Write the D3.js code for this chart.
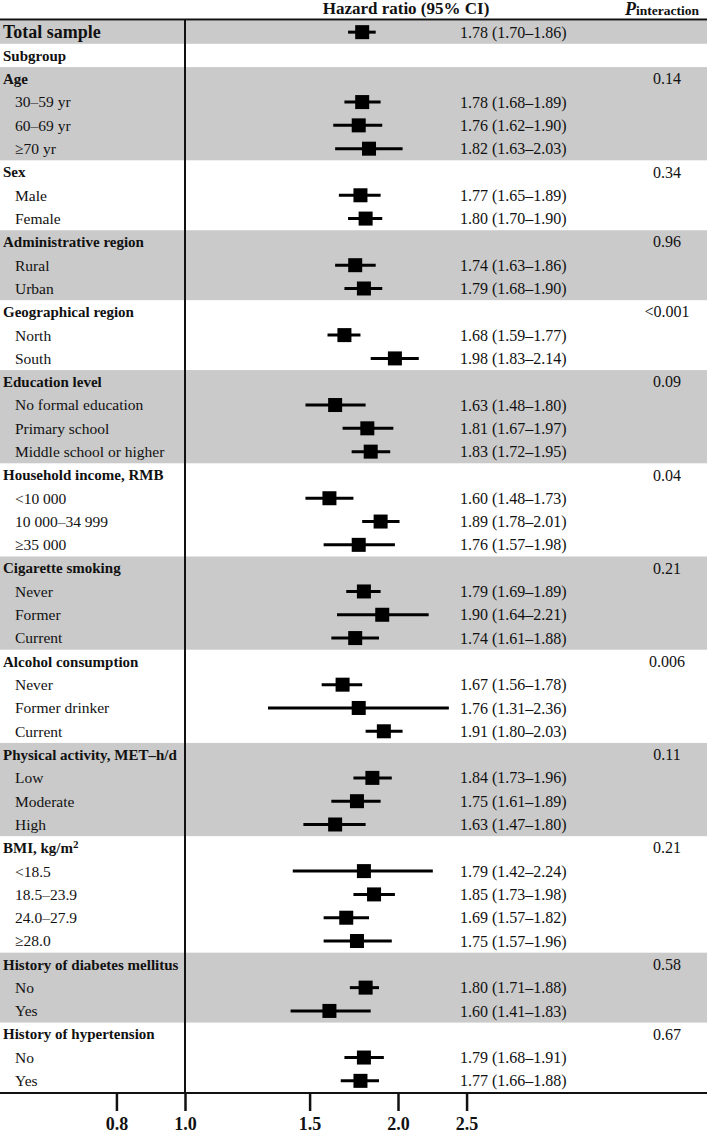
<!DOCTYPE html>
<html>
<head>
<meta charset="utf-8">
<script src="https://cdnjs.cloudflare.com/ajax/libs/d3/7.8.5/d3.min.js"></script>
<style>
  body { margin: 0; background: #fff; }
  text { font-family: "Liberation Serif", "Times New Roman", serif; fill: #111; }
</style>
</head>
<body>
<div id="chart"></div>
<script>
// overall estimate
var totalHR = 1.78, totalLo = 1.70, totalHi = 1.86;

// subgroups
var groupNames = ["Age", "Sex", "Administrative region", "Geographical region",
    "Education level", "Household income, RMB", "Cigarette smoking",
    "Alcohol consumption", "Physical activity, MET\u2013h/d", "BMI, kg/m",
    "History of diabetes mellitus", "History of hypertension"];
var groupP = ["0.14", "0.34", "0.96", "<0.001", "0.09", "0.04", "0.21",
    "0.006", "0.11", "0.21", "0.58", "0.67"];
var groupShaded = [true, false, true, false, true, false, true, false, true, false, true, false];

var itemLabels = [
    ["30\u201359 yr", "60\u201369 yr", "\u226570 yr"],
    ["Male", "Female"],
    ["Rural", "Urban"],
    ["North", "South"],
    ["No formal education", "Primary school", "Middle school or higher"],
    ["<10 000", "10 000\u201334 999", "\u226535 000"],
    ["Never", "Former", "Current"],
    ["Never", "Former drinker", "Current"],
    ["Low", "Moderate", "High"],
    ["<18.5", "18.5\u201323.9", "24.0\u201327.9", "\u226528.0"],
    ["No", "Yes"],
    ["No", "Yes"]
];
var itemHR = [[1.78, 1.76, 1.82], [1.77, 1.80], [1.74, 1.79], [1.68, 1.98],
    [1.63, 1.81, 1.83], [1.60, 1.89, 1.76], [1.79, 1.90, 1.74], [1.67, 1.76, 1.91],
    [1.84, 1.75, 1.63], [1.79, 1.85, 1.69, 1.75], [1.80, 1.60], [1.79, 1.77]];
var itemLo = [[1.68, 1.62, 1.63], [1.65, 1.70], [1.63, 1.68], [1.59, 1.83],
    [1.48, 1.67, 1.72], [1.48, 1.78, 1.57], [1.69, 1.64, 1.61], [1.56, 1.31, 1.80],
    [1.73, 1.61, 1.47], [1.42, 1.73, 1.57, 1.57], [1.71, 1.41], [1.68, 1.66]];
var itemHi = [[1.89, 1.90, 2.03], [1.89, 1.90], [1.86, 1.90], [1.77, 2.14],
    [1.80, 1.97, 1.95], [1.73, 2.01, 1.98], [1.89, 2.21, 1.88], [1.78, 2.36, 2.03],
    [1.96, 1.89, 1.80], [2.24, 1.98, 1.82, 1.96], [1.88, 1.83], [1.91, 1.88]];

var xTicks = [0.8, 1.0, 1.5, 2.0, 2.5];

// build row list
var rows = [];
rows.push({kind: "total", label: "Total sample", hr: totalHR, lo: totalLo, hi: totalHi});
rows.push({kind: "header", label: "Subgroup"});
groupNames.forEach(function(g, gi) {
    rows.push({kind: "group", label: g, p: groupP[gi], gi: gi});
    itemLabels[gi].forEach(function(lab, j) {
        rows.push({kind: "item", label: lab, gi: gi,
            hr: itemHR[gi][j], lo: itemLo[gi][j], hi: itemHi[gi][j]});
    });
});
rows.forEach(function(r, i) { r.i = i; });

var width = 709, height = 1134;
var fmt = d3.format(".2f");

var svg = d3.select("#chart").append("svg")
    .attr("width", width)
    .attr("height", height);

var y = d3.scaleBand()
    .domain(rows.map(function(d) { return d.i; }))
    .range([20.5, 1092.5]);

var x = d3.scaleLog()
    .domain([1, 2])
    .range([185, 398]);

// shaded bands
var bands = [{a: 0, b: 0}];
groupNames.forEach(function(g, gi) {
    if (!groupShaded[gi]) return;
    var rs = rows.filter(function(r) { return r.gi === gi; });
    bands.push({a: rs[0].i, b: rs[rs.length - 1].i});
});
svg.append("g").selectAll("rect")
    .data(bands)
    .enter().append("rect")
    .attr("x", 0)
    .attr("width", 707)
    .attr("y", function(d) { return y(d.a); })
    .attr("height", function(d) { return y(d.b) + y.bandwidth() - y(d.a); })
    .attr("fill", "#cacaca");

// header
svg.append("text")
    .attr("x", 406)
    .attr("y", 14)
    .attr("text-anchor", "middle")
    .style("font-weight", "bold")
    .style("font-size", "17px")
    .text("Hazard ratio (95% CI)");

var ph = svg.append("text")
    .attr("x", 699)
    .attr("y", 15)
    .attr("text-anchor", "end")
    .style("font-weight", "bold");
ph.append("tspan").style("font-style", "italic").style("font-size", "18px").text("P");
ph.append("tspan").style("font-size", "13.5px").text("interaction");

svg.append("line")
    .attr("x1", 0).attr("x2", 707)
    .attr("y1", 19.5).attr("y2", 19.5)
    .attr("stroke", "#111").attr("stroke-width", 2);

// labels
var lab = svg.append("g").selectAll("text")
    .data(rows)
    .enter().append("text")
    .attr("x", function(d) { return d.kind === "item" ? 15 : 3; })
    .attr("y", function(d) { return y(d.i) + y.bandwidth() / 2; })
    .attr("dy", "0.35em")
    .style("font-weight", function(d) { return d.kind === "item" ? "normal" : "bold"; })
    .style("font-size", function(d) {
        return d.kind === "total" ? "18px" : d.kind === "item" ? "15.5px" : "15px";
    })
    .text(function(d) { return d.label; });

lab.filter(function(d) { return d.label === "BMI, kg/m"; })
    .append("tspan")
    .attr("dy", "-0.45em")
    .style("font-size", "11px")
    .text("2");

// p interaction
svg.append("g").selectAll("text")
    .data(rows.filter(function(d) { return d.kind === "group"; }))
    .enter().append("text")
    .attr("x", 667)
    .attr("y", function(d) { return y(d.i) + y.bandwidth() / 2; })
    .attr("dy", "0.35em")
    .attr("text-anchor", "middle")
    .style("font-size", "16px")
    .text(function(d) { return d.p; });

// estimates
var est = rows.filter(function(d) { return d.hr != null; });

svg.append("g").selectAll("text")
    .data(est)
    .enter().append("text")
    .attr("x", 460)
    .attr("y", function(d) { return y(d.i) + y.bandwidth() / 2; })
    .attr("dy", "0.35em")
    .style("font-size", "16px")
    .text(function(d) { return fmt(d.hr) + " (" + fmt(d.lo) + "\u2013" + fmt(d.hi) + ")"; });

var marks = svg.append("g");
marks.selectAll("line")
    .data(est)
    .enter().append("line")
    .attr("x1", function(d) { return x(d.lo); })
    .attr("x2", function(d) { return x(d.hi); })
    .attr("y1", function(d) { return y(d.i) + y.bandwidth() / 2; })
    .attr("y2", function(d) { return y(d.i) + y.bandwidth() / 2; })
    .attr("stroke", "#000")
    .attr("stroke-width", 3);

marks.selectAll("rect")
    .data(est)
    .enter().append("rect")
    .attr("x", function(d) { return x(d.hr) - 7; })
    .attr("y", function(d) { return y(d.i) + y.bandwidth() / 2 - 7; })
    .attr("width", 14)
    .attr("height", 14)
    .attr("fill", "#000");

// reference line at 1.0
svg.append("line")
    .attr("x1", x(1)).attr("x2", x(1))
    .attr("y1", 19.5).attr("y2", 1093)
    .attr("stroke", "#111").attr("stroke-width", 2);

// x axis
var axis = d3.axisBottom(x)
    .tickValues(xTicks)
    .tickSize(18)
    .tickFormat(d3.format(".1f"));

var ax = svg.append("g")
    .attr("transform", "translate(0,1093)")
    .call(axis);
ax.select(".domain").remove();
ax.selectAll(".tick line").attr("stroke", "#111").attr("stroke-width", 2.5);
ax.selectAll(".tick text")
    .attr("y", 37)
    .attr("dy", 0)
    .style("font-family", "'Liberation Serif', serif")
    .style("font-weight", "bold")
    .style("font-size", "18px")
    .attr("fill", "#111");

svg.append("line")
    .attr("x1", 0).attr("x2", 707)
    .attr("y1", 1093).attr("y2", 1093)
    .attr("stroke", "#111").attr("stroke-width", 2);
</script>
</body>
</html>
